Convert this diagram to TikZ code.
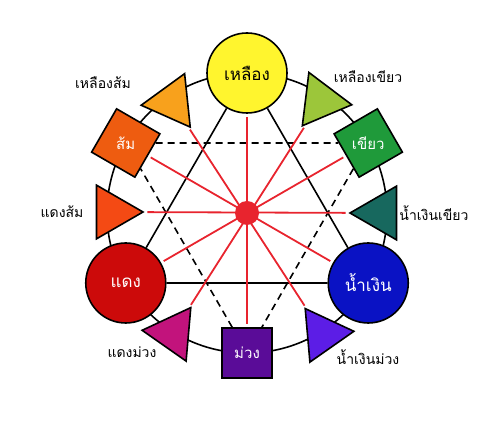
\documentclass[tikz,border=0pt]{standalone}
\usepackage{fontspec}
\newfontfamily\thaifont[Script=Thai]{Loma}
\usetikzlibrary{shapes.geometric,backgrounds}
\definecolor{cY}{HTML}{FFF52E}
\definecolor{cYG}{HTML}{9CC63A}
\definecolor{cG}{HTML}{1F9A3A}
\definecolor{cBG}{HTML}{17685E}
\definecolor{cB}{HTML}{0A12C4}
\definecolor{cBV}{HTML}{5C1DE6}
\definecolor{cV}{HTML}{5A0C98}
\definecolor{cRV}{HTML}{C2137C}
\definecolor{cR}{HTML}{CC0A0A}
\definecolor{cRO}{HTML}{F44A14}
\definecolor{cO}{HTML}{EE5C10}
\definecolor{cYO}{HTML}{F8A11C}
\definecolor{cLine}{HTML}{E8242E}
\begin{document}
\begin{tikzpicture}[x=1pt,y=1pt,
  bignode/.style={circle,draw=black,line width=1.6pt,minimum size=80pt,inner sep=0pt,font=\thaifont\fontsize{17}{19}\selectfont},
  sqnode/.style={rectangle,draw=black,line width=1.6pt,minimum size=50pt,inner sep=0pt,text=white,font=\thaifont\fontsize{15}{17}\selectfont},
  trinode/.style={regular polygon,regular polygon sides=3,draw=black,line width=1.6pt,minimum size=62pt,inner sep=0pt},
  outlabel/.style={font=\thaifont\fontsize{14}{16}\selectfont,text=black,inner sep=0pt},
  ringline/.style={draw=black,line width=1.6pt},
  solidtri/.style={draw=black,line width=1.6pt},
  dashtri/.style={draw=black,line width=1.6pt,dash pattern=on 7pt off 5pt},
  redline/.style={draw=cLine,line width=1.8pt,shorten <=3pt,shorten >=3pt}]
\useasboundingbox (0,0) rectangle (500,422);
\coordinate (C) at (247,209);
% circles
\node[bignode,fill=cY,text=black] (Y) at ([shift={(90:140)}]C) {เหลือง};
\node[bignode,fill=cR,text=white] (R) at ([shift={(210:140)}]C) {แดง};
\node[bignode,fill=cB,text=white] (B) at ([shift={(330:140)}]C) {น้ำเงิน};
% squares
\node[sqnode,fill=cG,rotate=30] (G) at ([shift={(30:140)}]C) {\rotatebox{-30}{เขียว}};
\node[sqnode,fill=cO,rotate=-30] (O) at ([shift={(150:140)}]C) {\rotatebox{30}{ส้ม}};
\node[sqnode,fill=cV] (V) at ([shift={(270:140)}]C) {ม่วง};
% triangles
\node[trinode,fill=cYG,rotate=143] (YG) at (321,321) {};
\node[trinode,fill=cYO,rotate=216] (YO) at (172,320) {};
\node[trinode,fill=cBG,rotate=90] (BG) at (381,209) {};
\node[trinode,fill=cRO,rotate=270] (RO) at (112,210) {};
\node[trinode,fill=cRV,rotate=325] (RV) at (173,89) {};
\node[trinode,fill=cBV,rotate=35] (BV) at (323,88) {};
% centre dot
\node[circle,fill=cLine,minimum size=24pt,inner sep=0pt] (dot) at (C) {};
% outer labels
\node[outlabel] (lYO) at (103,339) {เหลืองส้ม};
\node[outlabel] (lYG) at (368,345) {เหลืองเขียว};
\node[outlabel] (lRO) at (62,210) {แดงส้ม};
\node[outlabel] (lBG) at (434,209) {น้ำเงินเขียว};
\node[outlabel] (lRV) at (132,70) {แดงม่วง};
\node[outlabel] (lBV) at (368,65) {น้ำเงินม่วง};
\begin{pgfonlayer}{background}
\draw[ringline] (C) circle[radius=140];
\draw[solidtri] (Y) -- (R) -- (B) -- (Y);
\draw[dashtri] (O) -- (G);
\draw[dashtri] (G) -- (V);
\draw[dashtri] (V) -- (O);
\draw[redline] (Y) -- (V);
\draw[redline] (YG) -- (RV);
\draw[redline] (G) -- (R);
\draw[redline] (BG) -- (RO);
\draw[redline] (B) -- (O);
\draw[redline] (BV) -- (YO);
\end{pgfonlayer}
\end{tikzpicture}
\end{document}
